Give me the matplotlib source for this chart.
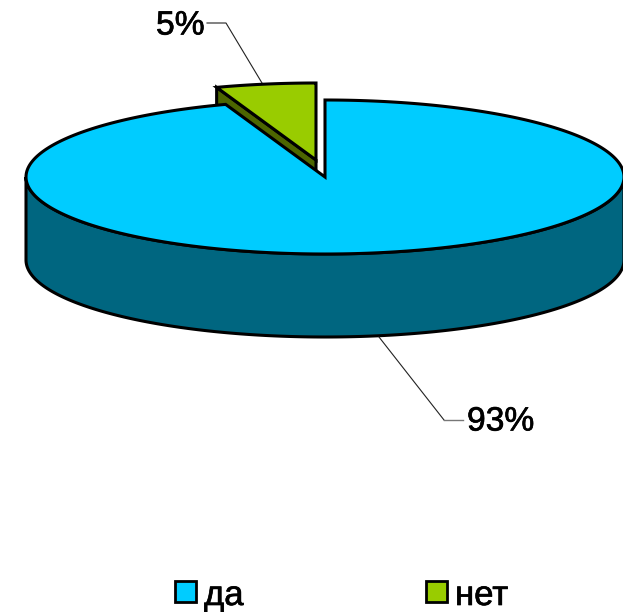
import matplotlib
matplotlib.use('agg')
import matplotlib.pyplot as plt
from matplotlib.patches import Polygon, Rectangle
import matplotlib.patheffects as pe

import numpy as np
from numpy import pi

plt.rcParams['font.family'] = ['Liberation Sans', 'DejaVu Sans']

categories = ['да', 'нет']
shares = [93, 5.3]
pct_labels = ['93%', '5%']
colors = ['#00CCFF', '#99CC00']
side_colors = ['#006680', '#4D6600']

# pie geometry, in pixels of the picture
CX, CY = 325, 177
RX, RY = 299, 77
DEPTH = 83
GREEN_CX, GREEN_CY = 316, 160

# real text is a bit heavier than plain Liberation
heavy = [pe.withStroke(linewidth=0.5, foreground='black')]


def rim(cx, cy, a0, a1, n=300):
    """points of the ellipse, angle measured clockwise from 12 o'clock"""
    a = np.linspace(a0, a1, n)
    return np.column_stack([cx + RX*np.sin(a), cy - RY*np.cos(a)])


def face(pts, color, ax, z):
    ax.add_patch(Polygon(pts, closed=True, facecolor=color, edgecolor='black',
                         linewidth=2.2, joinstyle='miter', zorder=z))


fig = plt.figure(figsize=(6.23, 6.12), dpi=100)
ax = fig.add_axes([0, 0, 1, 1])
ax.set_xlim(0, 623)
ax.set_ylim(612, 0)
ax.axis('off')

sweep = 2*pi*np.array(shares)/np.sum(shares)
blue_end = sweep[0]

# small slice first, the big one covers most of its wall
top = rim(GREEN_CX, GREEN_CY, blue_end, 2*pi)
wall = np.vstack([[top[0]], [[GREEN_CX, GREEN_CY]],
                  [[GREEN_CX, GREEN_CY + DEPTH]],
                  [top[0] + [0, DEPTH]]])
face(wall, side_colors[1], ax, 1)
face(np.vstack([top, [[GREEN_CX, GREEN_CY]]]), colors[1], ax, 2)

# wall of the big slice, only the front half shows
front = rim(CX, CY, pi/2, 3*pi/2)
face(np.vstack([front, (front + [0, DEPTH])[::-1]]), side_colors[0], ax, 3)
face(np.vstack([rim(CX, CY, 0, blue_end), [[CX, CY]]]), colors[0], ax, 4)

# leader lines
ax.plot([379, 444], [337, 420], color='#222222', lw=0.8, zorder=5)
ax.plot([444, 463], [420, 420], color='#777777', lw=1.0, zorder=5)
ax.plot([207, 226, 262], [23, 23, 83], color='#222222', lw=0.8, zorder=1)

ax.text(467, 422, pct_labels[0], fontsize=24.2, ha='left', va='center',
        color='black', path_effects=heavy)
ax.text(156, 26, pct_labels[1], fontsize=24.2, ha='left', va='center',
        color='black', path_effects=heavy)

# legend
for x, name, c in zip([175, 426], categories, colors):
    ax.add_patch(Rectangle((x, 581), 21, 21, facecolor=c, edgecolor='black', linewidth=2.0))
    ax.text(x + 29, 592, name, fontsize=25, ha='left', va='center_baseline',
            color='black', path_effects=heavy)

plt.savefig('out.png', dpi=100)
